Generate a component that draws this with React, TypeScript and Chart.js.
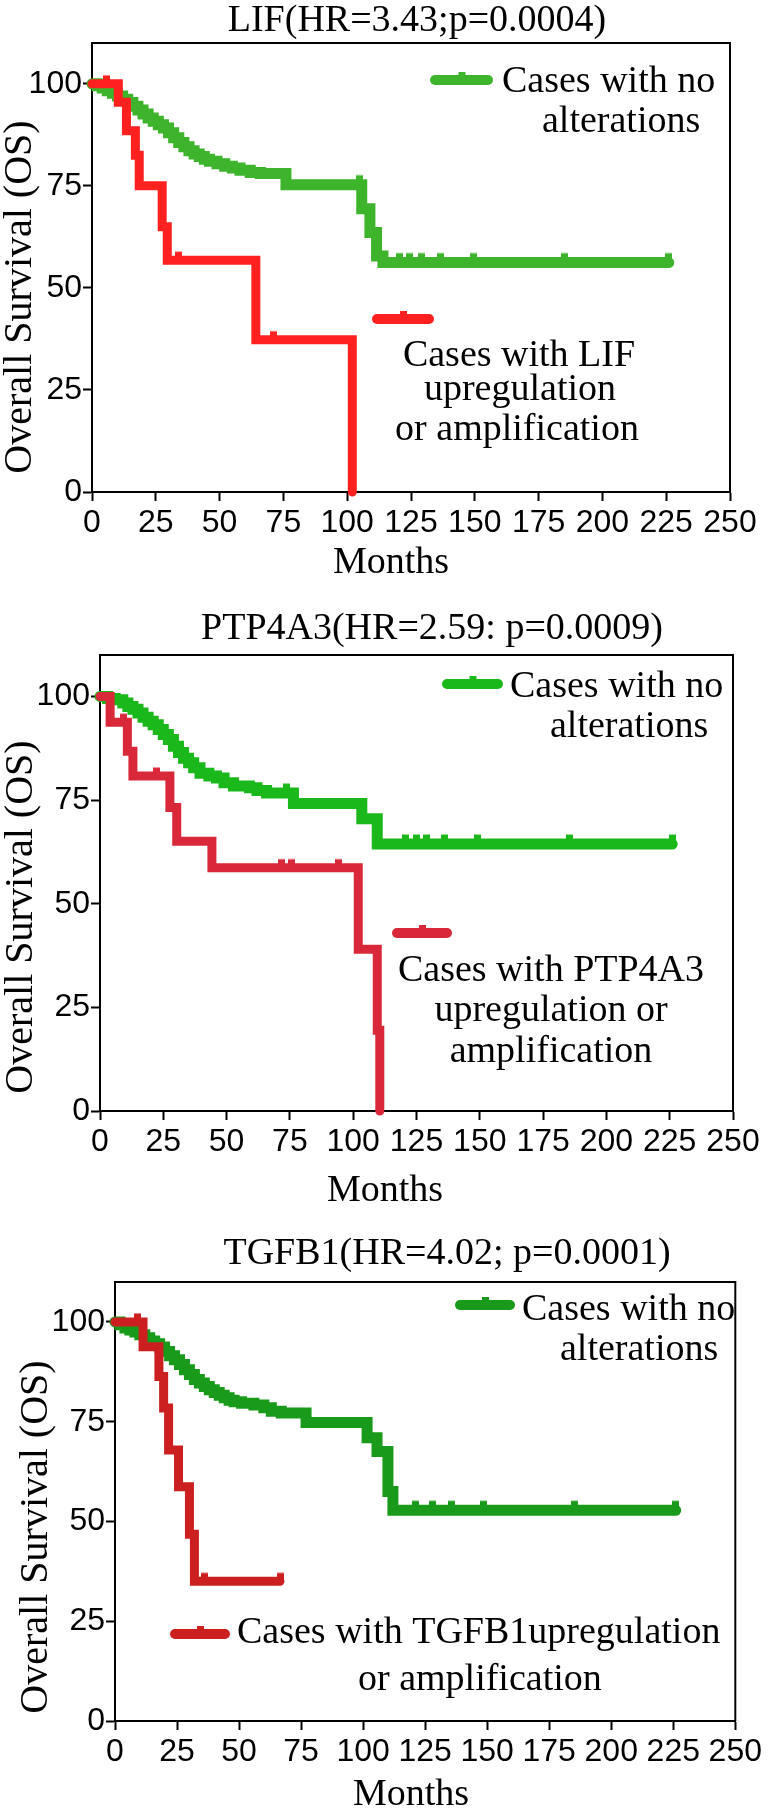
import React, { useEffect, useRef } from "react";
import { Chart, registerables } from "chart.js";

Chart.register(...registerables);

const SERIF = '"Liberation Serif", "Times New Roman", Times, serif';
const SANS = '"Liberation Sans", Arial, Helvetica, sans-serif';

// ---------- shared axis ticks ----------
const monthTickValues = [0, 25, 50, 75, 100, 125, 150, 175, 200, 225, 250];
const survivalTickValues = [0, 25, 50, 75, 100];

// ---------- Panel 1: LIF ----------
const lifNoAltMonths = [0, 2, 4, 6, 8, 10, 12, 14, 16, 18, 20, 22, 24, 26, 28, 30, 32, 34, 36, 38, 40, 42, 44, 46, 49, 52, 55, 58, 62, 66, 76, 105.7, 108.9, 111.5, 114, 226];
const lifNoAltSurv = [100, 99.5, 99, 98.3, 97.7, 97, 96.2, 95.4, 94.5, 93.6, 92.6, 91.6, 90.8, 90, 89.2, 88, 86.8, 85.6, 84.6, 83.6, 82.8, 82.2, 81.5, 81, 80.4, 79.8, 79.4, 78.8, 78.3, 78, 75.3, 69.4, 63.6, 57.8, 56.2, 56.2];
const lifNoAltCensorMonths = [105, 120.3, 124.6, 129.2, 136.4, 149.4, 185.3, 226];
const lifNoAltCensorSurv = [75.3, 56.2, 56.2, 56.2, 56.2, 56.2, 56.2, 56.2];
const lifAltMonths = [0, 10.3, 13.5, 17, 18.5, 27.5, 29.5, 64.2, 102];
const lifAltSurv = [100, 95.5, 88.5, 82.5, 75, 65, 56.8, 37.3, 0];
const lifAltCensorMonths = [5.8, 34, 71];
const lifAltCensorSurv = [100, 56.8, 37.3];

// ---------- Panel 2: PTP4A3 ----------
const ptpNoAltMonths = [0, 3, 6, 9, 11, 13, 15, 17, 19, 21, 23, 25, 27, 29, 31, 33, 35, 37, 39.5, 43, 46, 49, 52.7, 59, 62, 65.8, 76.4, 103.4, 109.5, 226];
const ptpNoAltSurv = [100, 99.5, 99.2, 98.4, 97.6, 96.9, 96, 95, 94, 93.2, 92, 90.8, 89.6, 88, 86.5, 85.1, 84, 82.8, 81.5, 80.8, 80.3, 79.2, 78.4, 78, 77.3, 76.7, 74.2, 70.5, 64.4, 64.4];
const ptpNoAltCensorMonths = [73.5, 120.5, 125, 129, 136, 149, 185.6, 226];
const ptpNoAltCensorSurv = [76.7, 64.4, 64.4, 64.4, 64.4, 64.4, 64.4, 64.4];
const ptpAltMonths = [0, 4, 10.8, 13, 27.6, 30.3, 44.2, 102, 109.5, 110.5];
const ptpAltSurv = [100, 93.8, 86.8, 80.8, 73.2, 65.1, 58.7, 39, 19.5, 0];
const ptpAltCensorMonths = [9.2, 22.4, 71.5, 75.8, 94];
const ptpAltCensorSurv = [93.8, 80.8, 58.7, 58.7, 58.7];

// ---------- Panel 3: TGFB1 ----------
const tgfNoAltMonths = [0, 2, 4, 6, 8, 10, 12, 14, 16, 18, 20, 22, 24, 26, 28, 30, 32, 34, 36, 38, 40, 42, 44, 46, 48, 51, 56, 60, 63, 67, 77, 101.6, 105.6, 110, 112, 226];
const tgfNoAltSurv = [100, 99.3, 98.5, 98, 97.5, 96.8, 96, 95.2, 94.5, 93.7, 92.6, 91.5, 90.5, 89.3, 88, 86.8, 85.6, 84.7, 83.8, 83, 82.3, 81.6, 81, 80.4, 80, 79.6, 79.2, 78.5, 77.6, 77.2, 74.8, 71, 67.5, 57.5, 52.8, 52.8];
const tgfNoAltCensorMonths = [121, 128, 135.7, 148.6, 185, 226];
const tgfNoAltCensorSurv = [52.8, 52.8, 52.8, 52.8, 52.8, 52.8];
const tgfAltMonths = [0, 11.3, 17.7, 19.6, 21.6, 25.6, 30, 32, 66.5];
const tgfAltSurv = [100, 93.8, 86.3, 78.4, 67.9, 58.7, 46.8, 35, 35];
const tgfAltCensorMonths = [9.2, 36, 66.5];
const tgfAltCensorSurv = [100, 35, 35];

// ---------- text ----------
const lifTitle = "LIF(HR=3.43;p=0.0004)";
const ptpTitle = "PTP4A3(HR=2.59: p=0.0009)";
const tgfTitle = "TGFB1(HR=4.02; p=0.0001)";
const yAxisTitle = "Overall Survival (OS)";
const xAxisTitle = "Months";
const noAltLabel = ["Cases with no", "alterations"];
const lifAltLabel = ["Cases with LIF", "upregulation", "or amplification"];
const ptpAltLabel = ["Cases with PTP4A3", "upregulation or", "amplification"];
const tgfAltLabel = ["Cases with TGFB1upregulation", "or amplification"];

type Txt = { t: string; x: number; y: number; align: CanvasTextAlign; size: number; rot?: boolean };
type Seg = { x1: number; x2: number; y: number; color: string; w: number };

interface PanelCfg {
  top: number;
  height: number;
  area: { l: number; r: number; t: number; b: number };
  green: string;
  red: string;
  greenW: number;
  redW: number;
  noAlt: { m: number[]; s: number[]; cm: number[]; cs: number[] };
  alt: { m: number[]; s: number[]; cm: number[]; cs: number[] };
  texts: Txt[];
  segs: Seg[];
}

const panels: PanelCfg[] = [
  {
    top: 0,
    height: 585,
    area: { l: 92, r: 730, t: 43, b: 492 },
    green: "#3db42b",
    red: "#ff2020",
    greenW: 11,
    redW: 9,
    noAlt: { m: lifNoAltMonths, s: lifNoAltSurv, cm: lifNoAltCensorMonths, cs: lifNoAltCensorSurv },
    alt: { m: lifAltMonths, s: lifAltSurv, cm: lifAltCensorMonths, cs: lifAltCensorSurv },
    texts: [
      { t: lifTitle, x: 417, y: 31, align: "center", size: 38 },
      { t: yAxisTitle, x: 31, y: 297, align: "center", size: 40, rot: true },
      { t: xAxisTitle, x: 391, y: 573, align: "center", size: 38 },
      { t: noAltLabel[0], x: 502, y: 92, align: "left", size: 38 },
      { t: noAltLabel[1], x: 542, y: 132, align: "left", size: 38 },
      { t: lifAltLabel[0], x: 519, y: 366, align: "center", size: 38 },
      { t: lifAltLabel[1], x: 520, y: 400, align: "center", size: 38 },
      { t: lifAltLabel[2], x: 517, y: 440, align: "center", size: 38 },
    ],
    segs: [
      { x1: 435, x2: 488, y: 80, color: "#3db42b", w: 10 },
      { x1: 377, x2: 429, y: 319, color: "#ff2020", w: 10 },
    ],
  },
  {
    top: 585,
    height: 620,
    area: { l: 100, r: 733, t: 655, b: 1111 },
    green: "#1bb81b",
    red: "#d8283a",
    greenW: 11,
    redW: 9,
    noAlt: { m: ptpNoAltMonths, s: ptpNoAltSurv, cm: ptpNoAltCensorMonths, cs: ptpNoAltCensorSurv },
    alt: { m: ptpAltMonths, s: ptpAltSurv, cm: ptpAltCensorMonths, cs: ptpAltCensorSurv },
    texts: [
      { t: ptpTitle, x: 432, y: 639, align: "center", size: 38 },
      { t: yAxisTitle, x: 32, y: 917, align: "center", size: 40, rot: true },
      { t: xAxisTitle, x: 385, y: 1201, align: "center", size: 38 },
      { t: noAltLabel[0], x: 510, y: 697, align: "left", size: 38 },
      { t: noAltLabel[1], x: 550, y: 737, align: "left", size: 38 },
      { t: ptpAltLabel[0], x: 551, y: 981, align: "center", size: 38 },
      { t: ptpAltLabel[1], x: 551, y: 1021, align: "center", size: 38 },
      { t: ptpAltLabel[2], x: 551, y: 1062, align: "center", size: 38 },
    ],
    segs: [
      { x1: 447, x2: 498, y: 684, color: "#1bb81b", w: 10 },
      { x1: 397, x2: 447, y: 933, color: "#d8283a", w: 10 },
    ],
  },
  {
    top: 1205,
    height: 604,
    area: { l: 115, r: 742, t: 1282, b: 1721 },
    green: "#1a9a1a",
    red: "#cc2020",
    greenW: 11,
    redW: 9,
    noAlt: { m: tgfNoAltMonths, s: tgfNoAltSurv, cm: tgfNoAltCensorMonths, cs: tgfNoAltCensorSurv },
    alt: { m: tgfAltMonths, s: tgfAltSurv, cm: tgfAltCensorMonths, cs: tgfAltCensorSurv },
    texts: [
      { t: tgfTitle, x: 447, y: 1264, align: "center", size: 38 },
      { t: yAxisTitle, x: 47, y: 1537, align: "center", size: 40, rot: true },
      { t: xAxisTitle, x: 411, y: 1805, align: "center", size: 38 },
      { t: noAltLabel[0], x: 522, y: 1320, align: "left", size: 38 },
      { t: noAltLabel[1], x: 560, y: 1360, align: "left", size: 38 },
      { t: tgfAltLabel[0], x: 237, y: 1643, align: "left", size: 38 },
      { t: tgfAltLabel[1], x: 358, y: 1690, align: "left", size: 38 },
    ],
    segs: [
      { x1: 460, x2: 510, y: 1305, color: "#1a9a1a", w: 10 },
      { x1: 175, x2: 225, y: 1634, color: "#cc2020", w: 10 },
    ],
  },
];

function makeCensorMark(color: string, lineW: number): HTMLCanvasElement {
  const c = document.createElement("canvas");
  c.width = 7;
  c.height = 30;
  const g = c.getContext("2d")!;
  g.fillStyle = color;
  const up = lineW / 2 + 4;
  g.fillRect(0, 15 - up, 7, up);
  return c;
}

function toPts(m: number[], s: number[]) {
  return m.map((x, i) => ({ x, y: s[i] }));
}

function KMPanel({ cfg }: { cfg: PanelCfg }) {
  const ref = useRef<HTMLCanvasElement | null>(null);
  useEffect(() => {
    const canvas = ref.current;
    if (!canvas) return;
    const localTop = cfg.area.t - cfg.top;
    const localBottom = cfg.area.b - cfg.top;
    const decor = {
      id: "decor",
      beforeDatasetsDraw(chart: any) {
        const { ctx, chartArea: a } = chart;
        ctx.save();
        ctx.strokeStyle = "#000";
        ctx.lineWidth = 2;
        ctx.beginPath();
        ctx.moveTo(a.left, a.top);
        ctx.lineTo(a.right, a.top);
        ctx.lineTo(a.right, a.bottom);
        ctx.stroke();
        ctx.restore();
      },
      afterDraw(chart: any) {
        const ctx: CanvasRenderingContext2D = chart.ctx;
        ctx.save();
        for (const sg of cfg.segs) {
          const y = sg.y - cfg.top;
          ctx.strokeStyle = sg.color;
          ctx.lineWidth = sg.w;
          ctx.lineCap = "round";
          ctx.beginPath();
          ctx.moveTo(sg.x1, y);
          ctx.lineTo(sg.x2, y);
          ctx.stroke();
          ctx.fillStyle = sg.color;
          const mid = (sg.x1 + sg.x2) / 2;
          ctx.fillRect(mid - 3, y - sg.w / 2 - 3, 7, sg.w / 2 + 3);
        }
        ctx.fillStyle = "#000";
        ctx.textBaseline = "alphabetic";
        for (const t of cfg.texts) {
          ctx.font = `${t.size}px ${SERIF}`;
          ctx.textAlign = t.align;
          if (t.rot) {
            ctx.save();
            ctx.translate(t.x, t.y - cfg.top);
            ctx.rotate(-Math.PI / 2);
            ctx.fillText(t.t, 0, 0);
            ctx.restore();
          } else {
            ctx.fillText(t.t, t.x, t.y - cfg.top);
          }
        }
        ctx.restore();
      },
    };
    const axisCommon = {
      type: "linear" as const,
      grid: { drawOnChartArea: false, drawTicks: true, tickLength: 9, tickColor: "#000", tickWidth: 2 },
      border: { display: true, color: "#000", width: 2 },
    };
    const tickFont = { family: SANS, size: 32, lineHeight: 1 };
    const chart = new Chart(canvas, {
      type: "line",
      data: {
        datasets: [
          {
            label: "alt censored",
            data: toPts(cfg.alt.cm, cfg.alt.cs),
            showLine: false,
            pointStyle: makeCensorMark(cfg.red, cfg.redW) as any,
            pointRadius: 3,
            clip: false as any,
          },
          {
            label: "alt",
            data: toPts(cfg.alt.m, cfg.alt.s),
            borderColor: cfg.red,
            borderWidth: cfg.redW,
            stepped: "before",
            pointRadius: 0,
            fill: false,
            borderCapStyle: "round",
            borderJoinStyle: "miter",
            clip: false as any,
          },
          {
            label: "no alt censored",
            data: toPts(cfg.noAlt.cm, cfg.noAlt.cs),
            showLine: false,
            pointStyle: makeCensorMark(cfg.green, cfg.greenW) as any,
            pointRadius: 3,
            clip: false as any,
          },
          {
            label: "no alt",
            data: toPts(cfg.noAlt.m, cfg.noAlt.s),
            borderColor: cfg.green,
            borderWidth: cfg.greenW,
            stepped: "before",
            pointRadius: 0,
            fill: false,
            borderCapStyle: "round",
            borderJoinStyle: "miter",
            clip: false as any,
          },
        ],
      },
      options: {
        responsive: false,
        animation: false,
        devicePixelRatio: 1,
        events: [],
        layout: { padding: { top: localTop, right: 768 - cfg.area.r, left: 0, bottom: 0 } },
        plugins: { legend: { display: false }, tooltip: { enabled: false }, title: { display: false } },
        scales: {
          x: {
            ...axisCommon,
            min: 0,
            max: 250,
            afterBuildTicks: (s: any) => {
              s.ticks = monthTickValues.map((v) => ({ value: v }));
            },
            afterFit: (s: any) => {
              s.height = cfg.height - localBottom;
            },
            ticks: {
              color: "#000",
              font: tickFont,
              padding: 6,
              maxRotation: 0,
              autoSkip: false,
            },
          },
          y: {
            ...axisCommon,
            min: 0,
            max: 110,
            afterBuildTicks: (s: any) => {
              s.ticks = survivalTickValues.map((v) => ({ value: v }));
            },
            afterFit: (s: any) => {
              s.width = cfg.area.l;
            },
            ticks: {
              color: "#000",
              font: tickFont,
              padding: 1,
              autoSkip: false,
            },
          },
        },
      } as any,
      plugins: [decor as any],
    });
    return () => chart.destroy();
  }, [cfg]);
  return (
    <canvas
      ref={ref}
      width={768}
      height={cfg.height}
      style={{ position: "absolute", left: 0, top: cfg.top, width: 768, height: cfg.height, display: "block" }}
    />
  );
}

export default function App() {
  return (
    <div style={{ position: "absolute", left: 0, top: 0, width: 768, height: 1809, background: "#fff", overflow: "hidden" }}>
      {panels.map((p, i) => (
        <KMPanel key={i} cfg={p} />
      ))}
    </div>
  );
}
